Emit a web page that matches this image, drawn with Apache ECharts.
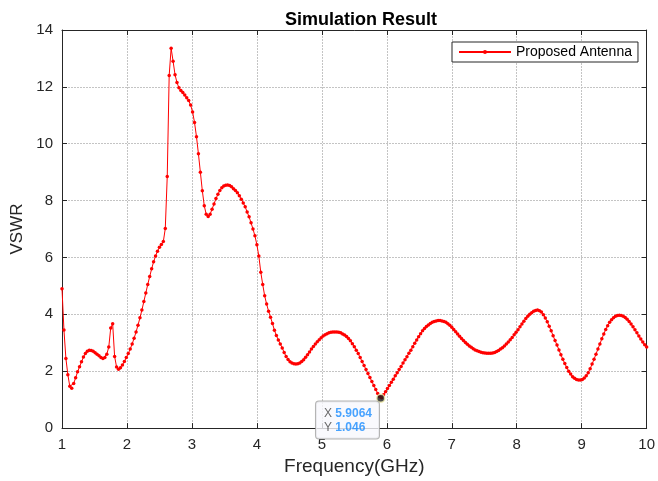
<!DOCTYPE html>
<html>
<head>
<meta charset="utf-8">
<script src="https://cdn.jsdelivr.net/npm/echarts@6/dist/echarts.min.js"></script>
<style>html,body{margin:0;padding:0;background:#fff}#c{width:658px;height:481px}</style>
</head>
<body>
<div id="c"></div>
<script>
// Frequency grid (GHz): 1.00 to 10.00, step 0.03
var freqStart = 1.0, freqStep = 0.03;
// VSWR values, one per frequency step (10 per row)
var vswr = [
  4.90,3.45,2.45,1.88,1.47,1.40,1.57,1.77,1.98,2.16,   // 1.00
  2.33,2.50,2.62,2.70,2.74,2.73,2.70,2.65,2.60,2.54,   // 1.30
  2.48,2.45,2.48,2.60,2.85,3.52,3.67,2.52,2.15,2.07,   // 1.60
  2.12,2.22,2.34,2.48,2.62,2.78,2.96,3.16,3.38,3.62,   // 1.90
  3.88,4.15,4.45,4.75,5.05,5.33,5.60,5.85,6.05,6.22,   // 2.20
  6.36,6.46,6.56,7.02,8.85,12.40,13.36,12.90,12.43,12.15, // 2.50
  11.97,11.87,11.80,11.71,11.62,11.52,11.36,11.12,10.75,10.25, // 2.80
  9.65,9.00,8.35,7.82,7.52,7.44,7.52,7.70,7.88,8.07,   // 3.10
  8.22,8.36,8.45,8.51,8.54,8.55,8.53,8.49,8.42,8.36,   // 3.40
  8.28,8.17,8.05,7.92,7.78,7.60,7.43,7.22,7.00,6.76,   // 3.70
  6.45,6.05,5.48,5.05,4.65,4.36,4.11,3.90,3.68,3.44,   // 4.00
  3.26,3.10,2.96,2.82,2.66,2.52,2.41,2.33,2.29,2.26,   // 4.30
  2.25,2.26,2.29,2.34,2.40,2.49,2.58,2.68,2.78,2.87,   // 4.60
  2.96,3.04,3.11,3.18,3.24,3.28,3.32,3.35,3.37,3.38,   // 4.90
  3.38,3.38,3.37,3.35,3.31,3.27,3.22,3.15,3.07,2.97,   // 5.20
  2.86,2.74,2.62,2.48,2.34,2.20,2.06,1.92,1.78,1.64,   // 5.50
  1.50,1.36,1.22,1.10,1.07,1.17,1.28,1.39,1.50,1.61,   // 5.80
  1.72,1.84,1.95,2.06,2.17,2.29,2.40,2.51,2.63,2.74,   // 6.10
  2.86,2.98,3.10,3.21,3.32,3.42,3.50,3.57,3.63,3.68,   // 6.40
  3.72,3.75,3.77,3.78,3.78,3.77,3.75,3.72,3.67,3.62,   // 6.70
  3.55,3.47,3.39,3.31,3.23,3.15,3.08,3.01,2.95,2.89,   // 7.00
  2.84,2.79,2.75,2.72,2.69,2.67,2.65,2.64,2.63,2.63,   // 7.30
  2.63,2.64,2.66,2.69,2.73,2.78,2.83,2.89,2.96,3.03,   // 7.60
  3.11,3.19,3.28,3.37,3.46,3.56,3.66,3.76,3.85,3.93,   // 7.90
  4.00,4.06,4.11,4.14,4.15,4.13,4.08,3.99,3.87,3.74,   // 8.20
  3.58,3.42,3.25,3.08,2.92,2.75,2.58,2.42,2.27,2.13,   // 8.50
  2.00,1.90,1.81,1.75,1.71,1.69,1.69,1.71,1.76,1.84,   // 8.80
  1.95,2.09,2.25,2.42,2.60,2.78,2.96,3.14,3.31,3.47,   // 9.10
  3.60,3.72,3.81,3.88,3.93,3.96,3.97,3.96,3.93,3.89,   // 9.40
  3.83,3.75,3.66,3.56,3.46,3.35,3.24,3.13,3.03,2.93,   // 9.70
  2.85                                                 // 10.00
];
// Data tip point
var tipX = 5.9064, tipY = 1.046;
var xTicks = [1,2,3,4,5,6,7,8,9,10];
var yTicks = [0,2,4,6,8,10,12,14];
var seriesName = 'Proposed Antenna';
var titleText = 'Simulation Result';

var data = vswr.map(function(v,i){ return [Math.round((freqStart + i*freqStep)*100)/100, v]; });

var chart = echarts.init(document.getElementById('c'), null, {renderer:'canvas'});
var font = 'Liberation Sans, Arial, Helvetica, sans-serif';
var axisCol = '#262626';
function baseAxis(extra){
  return Object.assign({
    axisLine:{show:true, onZero:false, lineStyle:{color:axisCol, width:1}},
    axisTick:{show:true, inside:true, length:5, lineStyle:{color:axisCol}},
    axisLabel:{show:false},
    splitLine:{show:false}
  }, extra);
}
chart.setOption({
  animation:false,
  backgroundColor:'#ffffff',
  title:{text:titleText, left:356, textAlign:'center', top:6,
    textStyle:{fontFamily:font, fontSize:18, fontWeight:'bold', color:'#000'}},
  grid:{left:62, right:7, top:30, bottom:52},
  legend:{
    data:[seriesName], left:452, top:42, orient:'horizontal',
    backgroundColor:'#fff', borderColor:axisCol, borderWidth:1, borderRadius:0,
    padding:[3,6,3,6], itemWidth:52, itemHeight:5, itemGap:4,
    textStyle:{fontFamily:font, fontSize:14, color:'#000'}
  },
  xAxis:[
    baseAxis({type:'value', min:1, max:10, interval:1, position:'bottom',
      name:'Frequency(GHz)', nameLocation:'middle', nameGap:28,
      nameTextStyle:{fontFamily:font, fontSize:19, color:axisCol},
      axisLabel:{show:true, margin:9, fontFamily:font, fontSize:15, color:axisCol,
        formatter:function(v){ return xTicks.indexOf(v)>=0 ? String(v) : ''; }},
      splitLine:{show:true, lineStyle:{color:'#c4c4c4', type:[2,1], width:1}}}),
    baseAxis({type:'value', min:1, max:10, interval:1, position:'top'})
  ],
  yAxis:[
    baseAxis({type:'value', min:0, max:14, interval:2, position:'left',
      name:'VSWR', nameLocation:'middle', nameGap:36,
      nameTextStyle:{fontFamily:font, fontSize:17, color:axisCol},
      axisLabel:{show:true, margin:9, fontFamily:font, fontSize:15, color:axisCol,
        formatter:function(v){ return yTicks.indexOf(v)>=0 ? String(v) : ''; }},
      splitLine:{show:true, lineStyle:{color:'#c4c4c4', type:[2,1], width:1}}}),
    baseAxis({type:'value', min:0, max:14, interval:2, position:'right'})
  ],
  series:[
    {name:seriesName, type:'line', data:data, xAxisIndex:0, yAxisIndex:0,
      symbol:'circle', symbolSize:3.5, showSymbol:true, smooth:false,
      lineStyle:{color:'#ff0000', width:1}, itemStyle:{color:'#ff0000'}},
    {name:'tip', type:'scatter', data:[[tipX, tipY]], xAxisIndex:0, yAxisIndex:0,
      symbol:'circle', symbolSize:8, z:10,
      itemStyle:{color:'#1a1a1a', borderColor:'#f5f0b0', borderWidth:1.5},
      label:{show:true, position:[-60, 8],
        backgroundColor:'#f7f8fc', borderColor:'#a0a0a0', borderWidth:1, borderRadius:3,
        padding:[5,7,4,8], lineHeight:14,
        formatter:function(p){ return '{k|X} {v|'+p.value[0]+'}\n{k|Y} {v|'+p.value[1]+'}'; },
        rich:{k:{fontFamily:font, fontSize:12, color:'#444'}, v:{fontFamily:font, fontSize:12, fontWeight:'bold', color:'#1a8cff'}}}
    }
  ]
});
</script>
</body>
</html>
